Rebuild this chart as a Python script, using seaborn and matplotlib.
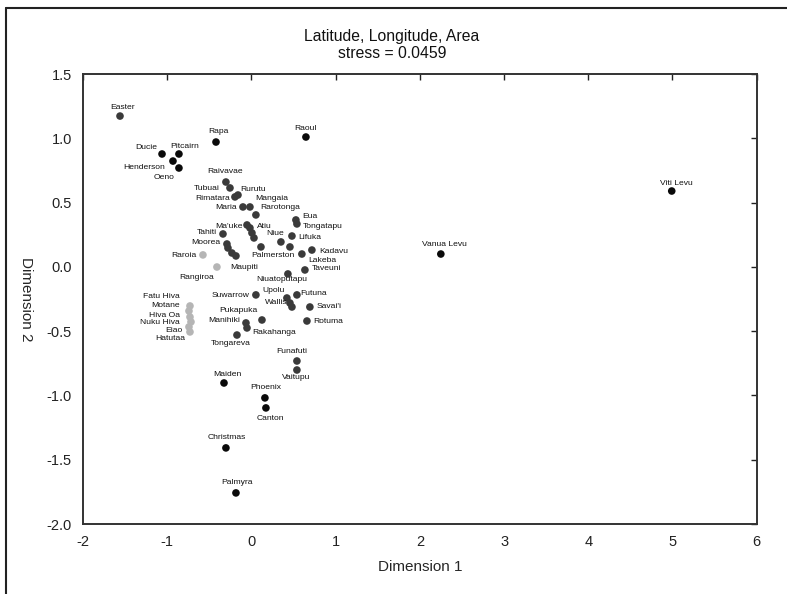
import matplotlib
matplotlib.use("Agg")
import matplotlib.pyplot as plt
from matplotlib.lines import Line2D
import seaborn as sns
import pandas as pd

# ---- data ----
islands = ["Easter", "Rapa", "Raoul", "Ducie", "Pitcairn", "Henderson", "Oeno",
           "Raivavae", "Tubuai", "Rimatara", "Rurutu", "Maria", "Mangaia", "Rarotonga",
           "Ma'uke", "Atiu", "", "", "Eua", "Tongatapu", "Lifuka", "Niue", "",
           "Palmerston", "Kadavu", "Lakeba", "Taveuni", "Niuatoputapu", "Tahiti",
           "Moorea", "", "", "Maupiti", "Raroia", "Rangiroa", "Suwarrow", "Upolu", "",
           "Wallis", "Futuna", "Savai'i", "Pukapuka", "Manihiki", "Rakahanga", "Rotuma",
           "Tongareva", "Funafuti", "Vaitupu", "Maiden", "Phoenix", "Canton",
           "Christmas", "Palmyra", "Vanua Levu", "Viti Levu",
           "Fatu Hiva", "Motane", "Hiva Oa", "Nuku Hiva", "Eiao", "Hatutaa"]
dim1 = [-1.561, -0.421, 0.647, -1.062, -0.861, -0.932, -0.861,
        -0.303, -0.255, -0.196, -0.160, -0.101, -0.018, 0.053,
        -0.053, -0.018, 0.006, 0.030, 0.528, 0.540, 0.481, 0.350, 0.457,
        0.113, 0.718, 0.599, 0.635, 0.433, -0.338,
        -0.291, -0.279, -0.232, -0.184, -0.576, -0.410, 0.053, 0.421, 0.457,
        0.481, 0.540, 0.694, 0.125, -0.065, -0.053, 0.659,
        -0.172, 0.540, 0.540, -0.326, 0.160, 0.172,
        -0.303, -0.184, 2.249, 4.991,
        -0.730, -0.742, -0.730, -0.718, -0.742, -0.730]
dim2 = [1.173, 0.971, 1.010, 0.878, 0.878, 0.823, 0.769,
        0.660, 0.614, 0.544, 0.559, 0.466, 0.466, 0.404,
        0.326, 0.303, 0.264, 0.225, 0.365, 0.334, 0.240, 0.194, 0.155,
        0.155, 0.131, 0.100, -0.024, -0.055, 0.256,
        0.178, 0.147, 0.108, 0.085, 0.093, -0.001, -0.218, -0.242, -0.281,
        -0.312, -0.218, -0.312, -0.413, -0.436, -0.475, -0.421,
        -0.530, -0.732, -0.802, -0.903, -1.019, -1.097,
        -1.408, -1.758, 0.100, 0.590,
        -0.304, -0.343, -0.390, -0.428, -0.467, -0.506]
group = ["g", "k", "k", "k", "k", "k", "k",
         "g", "g", "g", "g", "g", "g", "g",
         "g", "g", "g", "g", "g", "g", "g", "g", "g",
         "g", "g", "g", "g", "g", "g",
         "g", "g", "g", "g", "l", "l", "g", "g", "g",
         "g", "g", "g", "g", "g", "g", "g",
         "g", "g", "g", "k", "k", "k",
         "k", "k", "k", "k",
         "l", "l", "l", "l", "l", "l"]
x_ticks = [-2, -1, 0, 1, 2, 3, 4, 5, 6]
y_ticks = [-2.0, -1.5, -1.0, -0.5, 0.0, 0.5, 1.0, 1.5]
title_lines = ["Latitude, Longitude, Area", "stress = 0.0459"]

# ---- label placement (style, pixels: ha, dx, dy) ----
label_pos = {
    "Easter": ("center", 3, 9), "Rapa": ("center", 2, 11), "Raoul": ("center", 0, 9),
    "Ducie": ("right", -5, 6), "Pitcairn": ("left", -9, 7), "Henderson": ("right", -8, -6),
    "Oeno": ("right", -4, -9), "Raivavae": ("center", -1, 11), "Tubuai": ("right", -10, -1),
    "Rimatara": ("right", -5, -2), "Rurutu": ("left", 2, 6), "Maria": ("right", -6, -1),
    "Mangaia": ("left", 5, 8), "Rarotonga": ("left", 4, 7), "Ma'uke": ("right", -4, -2),
    "Atiu": ("left", 7, 1), "Eua": ("left", 6, 3), "Tongatapu": ("left", 6, -3),
    "Lifuka": ("left", 6, -1), "Niue": ("center", -6, 8), "Palmerston": ("center", 12, -9),
    "Kadavu": ("left", 7, -1), "Lakeba": ("left", 6, -6), "Taveuni": ("left", 7, 1),
    "Niuatoputapu": ("center", -6, -6), "Tahiti": ("right", -6, 1), "Moorea": ("right", -7, 1),
    "Maupiti": ("center", 8, -12), "Raroia": ("right", -6, -1), "Rangiroa": ("center", -20, -10),
    "Suwarrow": ("right", -6, -1), "Upolu": ("right", -2, 7), "Wallis": ("right", -4, 4),
    "Futuna": ("left", 3, 1), "Savai'i": ("left", 7, 0), "Pukapuka": ("center", -24, 9),
    "Manihiki": ("right", -6, 2), "Rakahanga": ("left", 5, -5), "Rotuma": ("left", 6, 0),
    "Tongareva": ("center", -6, -8), "Funafuti": ("center", -5, 9), "Vaitupu": ("center", -1, -8),
    "Maiden": ("center", 3, 8), "Phoenix": ("center", 1, 10), "Canton": ("center", 4, -11),
    "Christmas": ("center", 1, 10), "Palmyra": ("center", 1, 10),
    "Vanua Levu": ("center", 4, 10), "Viti Levu": ("center", 5, 8),
    "Fatu Hiva": ("right", -10, 9), "Motane": ("right", -9, 5), "Hiva Oa": ("right", -10, 2),
    "Nuku Hiva": ("right", -11, -1), "Eiao": ("right", -6, -4), "Hatutaa": ("right", -5, -7),
}

df = pd.DataFrame({"Dimension 1": dim1, "Dimension 2": dim2, "group": group, "name": islands})

sns.set_style("white")
plt.rcParams["font.family"] = ["Liberation Sans", "DejaVu Sans"]

fig = plt.figure(figsize=(7.87, 5.94), dpi=100)
ax = fig.add_axes([0.1055, 0.1178, 0.856, 0.7576])

palette = {"k": "#0a0a0a", "g": "#3a3a3a", "l": "#b5b5b5"}
# light first so dark points sit on top
order_df = pd.concat([df[df.group == "l"], df[df.group != "l"]])
sns.scatterplot(data=order_df, x="Dimension 1", y="Dimension 2", hue="group",
                palette=palette, s=30, edgecolor="none", legend=False, ax=ax, zorder=3)

for nm, xv, yv in zip(islands, dim1, dim2):
    if not nm:
        continue
    ha, dx, dy = label_pos[nm]
    ax.annotate(nm, (xv, yv), xytext=(dx, dy), textcoords="offset pixels",
                ha=ha, va="center", fontsize=6.1, color="#111111", zorder=4)

ax.set_xlim(-2, 6)
ax.set_ylim(-2.0, 1.5)
ax.set_xticks(x_ticks)
ax.set_yticks(y_ticks)
ax.set_xticklabels([str(t) for t in x_ticks])
ax.set_yticklabels([f"{t:.1f}" for t in y_ticks])
ax.tick_params(direction="in", length=4, width=1, top=True, right=True,
               labelsize=10.5, pad=8, colors="#222222")
for sp in ax.spines.values():
    sp.set_linewidth(1.4)
    sp.set_color("#333333")
    sp.set_visible(True)

ax.set_xlabel("Dimension 1", fontsize=11, labelpad=8)
ax.set_ylabel("Dimension 2", fontsize=11, rotation=-90, labelpad=20)

# two-line title, centred on the figure as in the reference
fig.text(0.498, 1 - 36 / 594, title_lines[0], ha="center", va="center", fontsize=11.3,
         color="#111111")
fig.text(0.498, 1 - 53 / 594, title_lines[1], ha="center", va="center", fontsize=11.3,
         color="#111111")

# outer figure frame (top and left edges visible in the reference)
fig.add_artist(Line2D([0.007, 1.0], [0.986, 0.986], transform=fig.transFigure,
                      color="#222222", lw=1.5))
fig.add_artist(Line2D([0.007, 0.007], [0.0, 0.986], transform=fig.transFigure,
                      color="#222222", lw=1.5))

fig.savefig("out.png", dpi=100)
